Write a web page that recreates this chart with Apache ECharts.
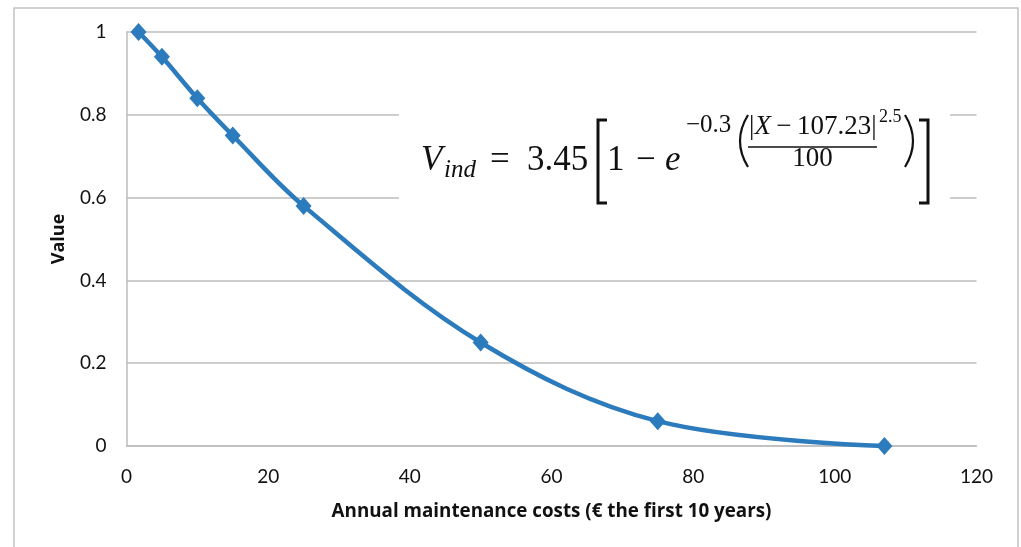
<!DOCTYPE html>
<html>
<head>
<meta charset="utf-8">
<script src="https://cdn.jsdelivr.net/npm/echarts@6/dist/echarts.min.js"></script>
<style>
html,body{margin:0;padding:0;background:#fff;}
#chart{width:1021px;height:547px;}
</style>
</head>
<body>
<div id="chart"></div>
<script>
const costs = [1.7, 5, 10, 15, 25, 50, 75, 107];
const values = [1, 0.94, 0.84, 0.75, 0.58, 0.25, 0.06, 0];
const xAxisTitle = 'Annual maintenance costs (€ the first 10 years)';
const yAxisTitle = 'Value';

const chart = echarts.init(document.getElementById('chart'));
const SERIF = '"Liberation Serif", serif';
const LBL = 'Lato, "Open Sans", sans-serif';
const NAMEF = '"Open Sans", Lato, sans-serif';

// baseline-based placement helper: y = baseline - 0.305*size
function t(text, x, base, size, italic, align) {
  return {
    type: 'text', z: 101, x: x, y: base - 0.305 * size,
    style: {
      text: text, fill: '#111', font: (italic ? 'italic ' : '') + size + 'px ' + SERIF,
      align: align || 'left', verticalAlign: 'middle'
    }
  };
}

const option = {
  animation: false,
  backgroundColor: '#fff',
  grid: { left: 126.5, right: 44.5, top: 32, bottom: 101, containLabel: false },
  xAxis: {
    type: 'value', min: 0, max: 120, interval: 20,
    name: xAxisTitle, nameLocation: 'middle', nameGap: 56,
    nameTextStyle: { fontFamily: NAMEF, fontWeight: 'bold', fontSize: 18.8, color: '#111' },
    axisLine: { show: true, lineStyle: { color: '#bdbdbd', width: 1.5 } },
    axisTick: { show: false },
    splitLine: { show: false },
    axisLabel: { fontFamily: LBL, fontSize: 19, color: '#111', margin: 21 }
  },
  yAxis: {
    type: 'value', min: 0, max: 1, interval: 0.2,
    name: yAxisTitle, nameLocation: 'middle', nameGap: 59, nameRotate: 90,
    nameTextStyle: { fontFamily: NAMEF, fontWeight: 'bold', fontSize: 18, color: '#111' },
    axisLine: { show: true, lineStyle: { color: '#bdbdbd', width: 1.5 } },
    axisTick: { show: false },
    splitLine: { show: true, lineStyle: { color: '#bdbdbd', width: 1.5 } },
    axisLabel: { fontFamily: LBL, fontSize: 19, color: '#111', margin: 20 }
  },
  series: [{
    type: 'line',
    data: costs.map((c, i) => [c, values[i]]),
    smooth: 0.35,
    symbol: 'diamond', symbolSize: [16, 18],
    lineStyle: { color: '#2b7bbd', width: 4.5 },
    itemStyle: { color: '#2b7bbd' },
    z: 5
  }],
  graphic: [
    { type: 'rect', z: 1, silent: true, shape: { x: 14, y: 8, width: 1004, height: 560 },
      style: { fill: 'none', stroke: '#c4c4c4', lineWidth: 1.5 } },
    { type: 'rect', z: 100, shape: { x: 399, y: 104, width: 551, height: 118 },
      style: { fill: '#fff' } },
    t('V', 421, 171, 35, true),
    t('ind', 444, 178, 25, true),
    t('=', 490, 171, 35, false),
    t('3.45', 527, 171, 35, false),
    { type: 'polyline', z: 101, shape: { points: [[607,120],[598,120],[598,203],[607,203]] },
      style: { stroke: '#111', lineWidth: 3, fill: 'none' } },
    t('1', 607, 171, 35, false),
    t('\u2212', 636, 171, 35, false),
    t('e', 665, 171, 35, true),
    t('\u22120.3', 686, 133, 25, false),
    { type: 'bezierCurve', z: 101, shape: { x1: 748, y1: 115, cpx1: 732, cpy1: 141, x2: 748, y2: 167 },
      style: { stroke: '#111', lineWidth: 2.2, fill: 'none' } },
    { type: 'text', z: 101, x: 749, y: 135 - 0.305 * 27,
      style: { text: '{n||}{i|X}{n|\u2009\u2212\u2009107.23|}', verticalAlign: 'middle', align: 'left',
        rich: { n: { font: '27px ' + SERIF, fill: '#111' }, i: { font: 'italic 27px ' + SERIF, fill: '#111' } } } },
    { type: 'line', z: 101, shape: { x1: 748, y1: 147, x2: 877, y2: 147 }, style: { stroke: '#111', lineWidth: 1.5 } },
    t('100', 812.5, 167, 27, false, 'center'),
    t('2.5', 879, 123, 18, false),
    { type: 'bezierCurve', z: 101, shape: { x1: 905, y1: 115, cpx1: 921, cpy1: 141, x2: 905, y2: 167 },
      style: { stroke: '#111', lineWidth: 2.2, fill: 'none' } },
    { type: 'polyline', z: 101, shape: { points: [[919,120],[928,120],[928,203],[919,203]] },
      style: { stroke: '#111', lineWidth: 3, fill: 'none' } }
  ]
};
chart.setOption(option);
</script>
</body>
</html>
